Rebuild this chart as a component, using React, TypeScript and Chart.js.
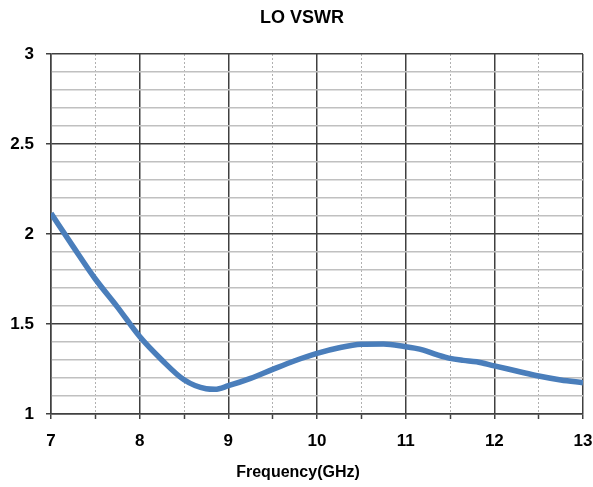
import React, { useEffect, useRef } from "react";
import { Chart, registerables } from "chart.js";

Chart.register(...registerables);

const TITLE = "LO VSWR";
const X_TITLE = "Frequency(GHz)";
const FREQ_GHZ = [7, 7.25, 7.5, 7.75, 8, 8.25, 8.5, 8.75, 8.85, 9, 9.25, 9.5, 9.75, 10, 10.25, 10.5, 10.75, 11, 11.1, 11.2, 11.35, 11.5, 11.65, 11.8, 12, 12.25, 12.5, 12.75, 13];
const VSWR = [2.115, 1.93, 1.75, 1.594, 1.43, 1.30, 1.19, 1.14, 1.137, 1.157, 1.198, 1.248, 1.296, 1.337, 1.368, 1.387, 1.389, 1.374, 1.366, 1.355, 1.33, 1.309, 1.298, 1.29, 1.267, 1.239, 1.211, 1.189, 1.174];
const X_MIN = 7, X_MAX = 13, X_STEP = 0.5;
const Y_MIN = 1, Y_MAX = 3, Y_STEP = 0.1, Y_LABEL_STEP = 0.5;

const MAJOR = "#404040";
const MINOR_H = "#c0c0c0";
const MINOR_V = "#b0b0b0";
const LINE = "#4a7ebb";
const FONT = "'Liberation Sans', Arial, sans-serif";

const isMult = (v: number, s: number) => Math.abs(v / s - Math.round(v / s)) < 1e-6;

export default function App() {
  const ref = useRef<HTMLCanvasElement | null>(null);
  useEffect(() => {
    if (!ref.current) return;
    const textPlugin = {
      id: "texts",
      afterDraw(chart: any) {
        const ctx = chart.ctx;
        ctx.save();
        ctx.fillStyle = "#000";
        ctx.textAlign = "center";
        ctx.textBaseline = "middle";
        ctx.font = `bold 18px ${FONT}`;
        ctx.fillText(TITLE, 302, 18);
        ctx.font = `bold 16px ${FONT}`;
        ctx.fillText(X_TITLE, 298, 473);
        ctx.restore();
      },
    };
    const chart = new Chart(ref.current, {
      type: "line",
      data: {
        datasets: [
          {
            data: FREQ_GHZ.map((x, i) => ({ x, y: VSWR[i] })),
            borderColor: LINE,
            borderWidth: 5.5,
            pointRadius: 0,
            cubicInterpolationMode: "monotone",
            fill: false,
          },
        ],
      },
      options: {
        responsive: false,
        animation: false,
        layout: { padding: { top: 54, bottom: 33, left: 0, right: 10 } },
        plugins: { legend: { display: false }, tooltip: { enabled: false }, title: { display: false } },
        scales: {
          x: {
            type: "linear",
            min: X_MIN,
            max: X_MAX,
            afterFit: (s: any) => { s.height = 40; s.paddingRight = 0; s.paddingLeft = 0; },
            ticks: {
              stepSize: X_STEP,
              autoSkip: false,
              maxRotation: 0,
              padding: 12,
              color: "#000",
              font: { family: FONT, size: 17, weight: "bold" },
              callback: (v: any) => (isMult(Number(v), 1) ? String(Math.round(Number(v))) : ""),
            },
            grid: {
              color: (c: any) => (c.tick && isMult(c.tick.value, 1) ? MAJOR : MINOR_V),
              lineWidth: (c: any) => (c.tick && isMult(c.tick.value, 1) ? 1.5 : 1),
              tickColor: MAJOR,
              tickLength: 5,
              tickWidth: 1.5,
            },
            border: {
              display: true,
              color: MAJOR,
              width: 1.5,
              dash: (c: any) => (c.tick && !isMult(c.tick.value, 1) ? [2, 2] : []),
            },
          },
          y: {
            type: "linear",
            min: Y_MIN,
            max: Y_MAX,
            afterFit: (s: any) => { s.width = 51; },
            ticks: {
              stepSize: Y_STEP,
              autoSkip: false,
              padding: 12,
              color: "#000",
              font: { family: FONT, size: 17, weight: "bold" },
              callback: (v: any) => (isMult(Number(v), Y_LABEL_STEP) ? String(Math.round(Number(v) * 10) / 10) : ""),
            },
            grid: {
              color: (c: any) => (c.tick && isMult(c.tick.value, Y_LABEL_STEP) ? MAJOR : MINOR_H),
              lineWidth: 1.5,
              tickColor: (c: any) => (c.tick && isMult(c.tick.value, Y_LABEL_STEP) ? MAJOR : "rgba(0,0,0,0)"),
              tickLength: 5,
              tickWidth: 1.5,
            },
            border: { display: true, color: MAJOR, width: 1.5 },
          },
        },
      },
      plugins: [textPlugin],
    } as any);
    return () => chart.destroy();
  }, []);
  return (
    <div style={{ position: "absolute", left: 0, top: 0, width: 593, height: 487, background: "#fff" }}>
      <canvas ref={ref} width={593} height={487} style={{ display: "block" }} />
    </div>
  );
}
